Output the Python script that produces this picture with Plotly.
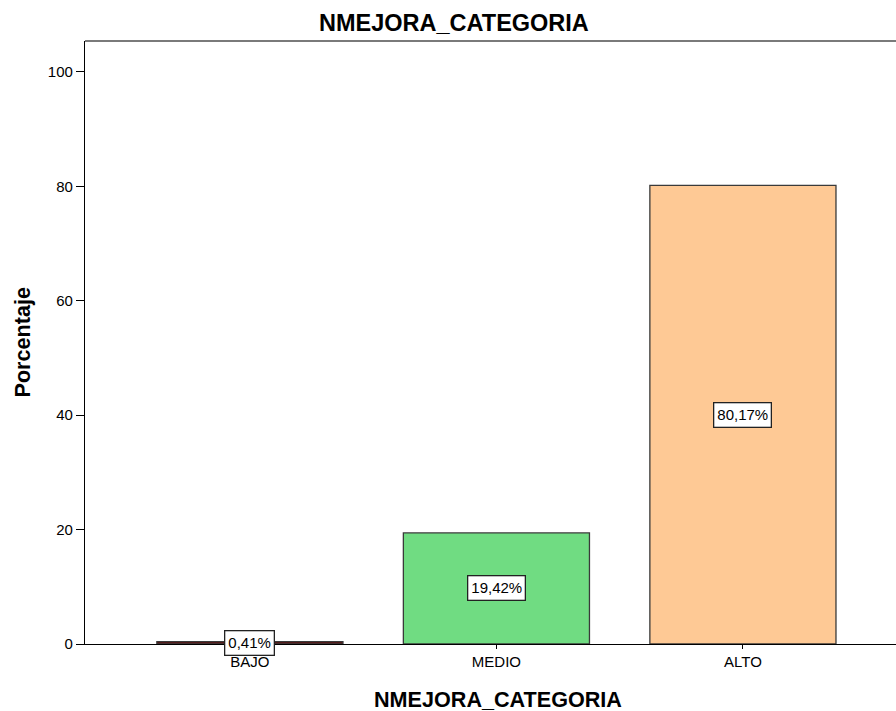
import plotly.graph_objects as go

categories = ["BAJO", "MEDIO", "ALTO"]
percentages = [0.41, 19.42, 80.17]
labels = ["0,41%", "19,42%", "80,17%"]
colors = ["#5a1212", "#70dc82", "#fec995"]
y_ticks = [0, 20, 40, 60, 80, 100]

W, H = 896, 711
L, R, T, B = 85, 0, 41, 67

fig = go.Figure()
fig.add_trace(go.Bar(
    x=categories, y=percentages, width=0.755,
    marker=dict(color=colors, line=dict(color="#3a3a3a", width=1.3)),
    hoverinfo="skip",
))

for c, v, t in zip(categories, percentages, labels):
    fig.add_annotation(
        x=c, y=v / 2, xref="x", yref="y", text=t, showarrow=False,
        font=dict(family="Liberation Sans, Arial", size=15, color="black"),
        bgcolor="white", bordercolor="#222", borderwidth=1.3, borderpad=3,
    )

font = "Liberation Sans, Arial"
fig.add_annotation(text="<b>NMEJORA_CATEGORIA</b>", xref="paper", yref="paper",
                   x=(454 - L) / (W - L - R), y=1 + (T - 23) / (H - T - B),
                   xanchor="center", yanchor="middle", showarrow=False,
                   font=dict(family=font, size=23.5, color="black"))
fig.add_annotation(text="<b>NMEJORA_CATEGORIA</b>", xref="paper", yref="paper",
                   x=(498 - L) / (W - L - R), y=-(699 - (H - B)) / (H - T - B),
                   xanchor="center", yanchor="middle", showarrow=False,
                   font=dict(family=font, size=21.6, color="black"))
fig.add_annotation(text="<b>Porcentaje</b>", xref="paper", yref="paper",
                   x=-(L - 22) / (W - L - R), y=0.5, textangle=-90,
                   xanchor="center", yanchor="middle", showarrow=False,
                   font=dict(family=font, size=21.6, color="black"))

fig.add_shape(type="line", xref="paper", yref="paper", x0=0, x1=1, y0=1, y1=1,
              line=dict(color="#7a7a7a", width=2))

fig.update_layout(
    width=W, height=H,
    margin=dict(l=L, r=R, t=T, b=B, pad=0),
    paper_bgcolor="white", plot_bgcolor="white",
    showlegend=False,
    font=dict(family=font, size=15, color="black"),
    xaxis=dict(range=[-0.669, 2.621], showline=True, linecolor="black", linewidth=1.3,
               ticks="outside", ticklen=4, tickcolor="black", tickwidth=1.3,
               showgrid=False, zeroline=False, tickfont=dict(size=15)),
    yaxis=dict(range=[0, 105.4], tickvals=y_ticks, showline=True, linecolor="black",
               linewidth=1.3, ticks="outside", ticklen=8, tickcolor="black", tickwidth=1.3,
               showgrid=False, zeroline=False, tickfont=dict(size=15)),
)

fig.write_html("out.html", config={"displayModeBar": False},
               post_script="document.body.style.margin='0';document.body.style.overflow='hidden';")
